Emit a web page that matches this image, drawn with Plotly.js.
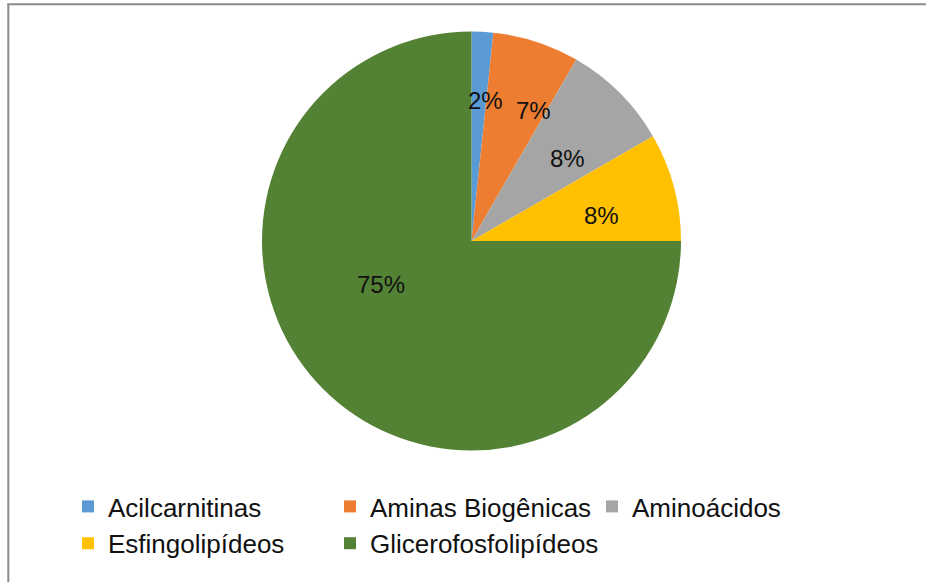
<!DOCTYPE html>
<html>
<head>
<meta charset="utf-8">
<script src="https://cdn.plot.ly/plotly-3.0.1.min.js"></script>
<style>
  html, body { margin: 0; padding: 0; background: #fff; }
  #chart { width: 926px; height: 582px; }
</style>
</head>
<body>
<div id="chart"></div>
<script>
// Metabolite classes and their counts
const classes = ['Acilcarnitinas', 'Aminas Biogênicas', 'Aminoácidos', 'Esfingolipídeos', 'Glicerofosfolipídeos'];
const counts = [1, 4, 5, 5, 45];
const colors = ['#5B9BD5', '#ED7D31', '#A5A5A5', '#FFC000', '#548235'];

// Where each percentage label sits (pixels from top-left of the figure)
const labelPx = [[485, 100], [533, 110], [567, 159], [601, 215], [381, 284]];

const W = 926, H = 582;
const total = counts.reduce((a, b) => a + b, 0);

// pie circle: centre (471.5, 241), radius 209.5 px
const cx = 471.5, cy = 241, r = 209.5;

const annotations = counts.map((v, i) => ({
  xref: 'paper', yref: 'paper',
  x: labelPx[i][0] / W, y: 1 - labelPx[i][1] / H,
  xanchor: 'center', yanchor: 'middle',
  text: Math.round(v / total * 100) + '%',
  showarrow: false,
  font: { family: 'Liberation Sans, Arial, sans-serif', size: 24, color: '#111' }
}));

const trace = {
  type: 'pie',
  labels: classes,
  values: counts,
  marker: { colors: colors, line: { width: 0 } },
  sort: false,
  direction: 'clockwise',
  rotation: 0,
  textinfo: 'none',
  hoverinfo: 'label+value+percent',
  domain: {
    x: [(cx - r) / W, (cx + r) / W],
    y: [1 - (cy + r) / H, 1 - (cy - r) / H]
  }
};

const layout = {
  width: W, height: H,
  margin: { l: 0, r: 0, t: 0, b: 0 },
  paper_bgcolor: '#fff',
  showlegend: true,
  legend: {
    orientation: 'h',
    x: 68 / W, xanchor: 'left',
    y: 1 - 483 / H, yanchor: 'top',
    entrywidth: 217, entrywidthmode: 'pixels',
    font: { family: 'Liberation Sans, Arial, sans-serif', size: 26, color: '#111' },
    traceorder: 'normal',
    bgcolor: 'rgba(0,0,0,0)'
  },
  annotations: annotations,
  shapes: [
    { type: 'line', xref: 'paper', yref: 'paper', x0: 8.3 / W, x1: 8.3 / W, y0: 0, y1: 1 - 4.3 / H,
      line: { color: '#8a8a8a', width: 2 } },
    { type: 'line', xref: 'paper', yref: 'paper', x0: 7.3 / W, x1: 1, y0: 1 - 4.3 / H, y1: 1 - 4.3 / H,
      line: { color: '#8a8a8a', width: 2 } }
  ]
};

Plotly.newPlot('chart', [trace], layout, { displayModeBar: false, staticPlot: true });
</script>
</body>
</html>
